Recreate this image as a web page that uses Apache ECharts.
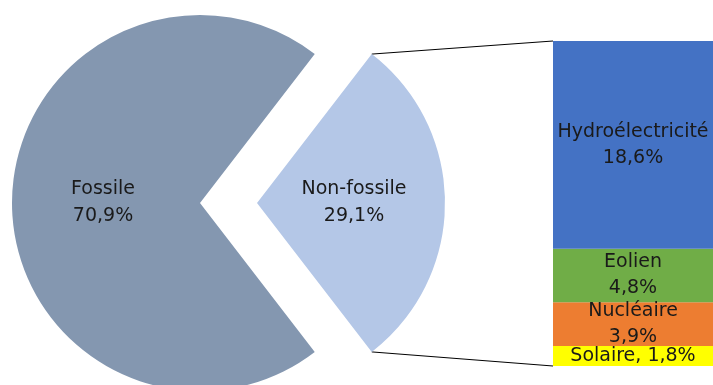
<!DOCTYPE html>
<html><head><meta charset="utf-8">
<script src="https://cdn.jsdelivr.net/npm/echarts@6/dist/echarts.min.js"></script>
<style>html,body{margin:0;padding:0;background:#fff}#c{width:713px;height:385px}</style>
</head><body><div id="c"></div>
<script>
// Pie data
const pieNames = ['Non-fossile', 'Fossile'];
const pieValues = [29.1, 70.9];
const pieLabels = ['Non-fossile\n29,1%', 'Fossile\n70,9%'];
// Bar (breakdown of non-fossile), bottom to top
const barNames = ['Solaire', 'Nucléaire', 'Eolien', 'Hydroélectricité'];
const barValues = [1.8, 3.9, 4.8, 18.6];
const barLabels = ['Solaire, 1,8%', 'Nucléaire\n3,9%', 'Eolien\n4,8%', 'Hydroélectricité\n18,6%'];

const pieColors = ['#B4C7E7', '#8497B0'];
const barColors = ['#FFFF00', '#ED7D31', '#70AD47', '#4472C4'];
const FONT = 'DejaVu Sans';
const TXT = '#1a1a1a';

const total = pieValues.reduce((a, b) => a + b, 0);
const halfAngle = pieValues[0] / total * 180;
const CX = 200, CY = 203, R = 188, OFF = 57;

const chart = echarts.init(document.getElementById('c'), null, {renderer: 'canvas'});
const barSeries = barValues.map((v, i) => ({
  type: 'bar', stack: 's', name: barNames[i], data: [v], barWidth: '100%',
  itemStyle: {color: barColors[i]},
  label: {show: true, position: 'inside', formatter: barLabels[i], color: TXT,
          fontFamily: FONT, fontSize: 19, lineHeight: 26, align: 'center'},
  emphasis: {disabled: true}, silent: true
}));
chart.setOption({
  animation: false,
  grid: {left: 553, right: 0, top: 41, bottom: 19},
  xAxis: {type: 'category', data: ['x'], show: false},
  yAxis: {type: 'value', min: 0, max: pieValues[0], show: false},
  series: [{
    type: 'pie', center: [CX, CY], radius: R, startAngle: halfAngle, clockwise: true,
    selectedMode: 'single', selectedOffset: OFF, silent: true,
    data: pieValues.map((v, i) => ({value: v, name: pieNames[i], selected: i === 0,
      itemStyle: {color: pieColors[i]},
      label: {formatter: pieLabels[i]}})),
    label: {show: true, position: 'inside', color: TXT, fontFamily: FONT, fontSize: 19, lineHeight: 27},
    labelLine: {show: false}, emphasis: {disabled: true}
  }].concat(barSeries)
});

// connector lines from exploded slice corners to bar corners
const a = halfAngle * Math.PI / 180;
const topCorner = [CX + OFF + R * Math.cos(a), CY - R * Math.sin(a)];
const botCorner = [CX + OFF + R * Math.cos(a), CY + R * Math.sin(a)];
const barTop = chart.convertToPixel({gridIndex: 0}, ['x', pieValues[0]]);
const barBot = chart.convertToPixel({gridIndex: 0}, ['x', 0]);
const barLeft = 553;
chart.setOption({
  graphic: [
    {type: 'line', shape: {x1: topCorner[0], y1: topCorner[1], x2: barLeft, y2: barTop[1]}, style: {stroke: '#000', lineWidth: 1}, silent: true},
    {type: 'line', shape: {x1: botCorner[0], y1: botCorner[1], x2: barLeft, y2: barBot[1]}, style: {stroke: '#000', lineWidth: 1}, silent: true}
  ]
});
</script></body></html>
